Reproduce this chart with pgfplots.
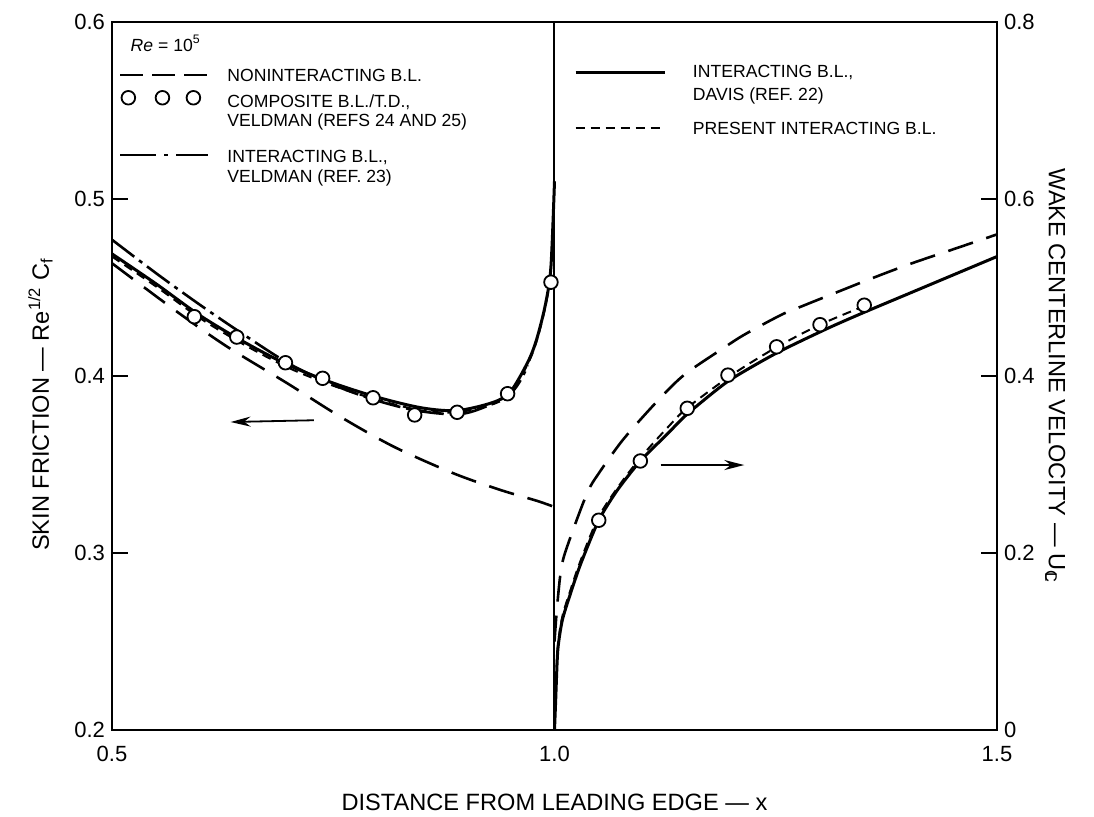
\documentclass[border=0pt]{standalone}
\usepackage{pgfplots}
\pgfplotsset{compat=1.18}
\usepackage{fontspec}
\setmainfont{Liberation Sans}
\usetikzlibrary{arrows.meta}

\pgfplotstableread{
x y
0.5 0.4637
0.5735 0.4363
0.630 0.4166
0.698 0.3959
0.758 0.3770
0.8186 0.3600
0.886 0.3450
0.939 0.3356
0.980 0.3295
1.0 0.3260
}\nonintL

\pgfplotstableread{
x y
0.5 0.469
0.55 0.452
0.6 0.434
0.65 0.419
0.7 0.406
0.75 0.396
0.8 0.388
0.85 0.382
0.89 0.3805
0.93 0.385
0.95 0.391
0.97 0.408
0.98 0.421
0.99 0.441
0.996 0.462
1.0 0.510
}\davisL

\pgfplotstableread{
x y
0.5 0.4675
0.55 0.4505
0.6 0.4325
0.65 0.4175
0.7 0.4045
0.75 0.3945
0.8 0.3865
0.85 0.3805
0.89 0.3795
0.93 0.384
0.95 0.390
0.97 0.407
0.98 0.420
0.99 0.440
0.996 0.461
1.0 0.510
}\presentL

\pgfplotstableread{
x y
0.5 0.477
0.55 0.458
0.6 0.440
0.65 0.423
0.7 0.407
0.75 0.395
0.8 0.386
0.85 0.380
0.9 0.379
0.95 0.390
0.97 0.406
}\veldmanL

\pgfplotstableread{
x y
0.593 0.4335
0.641 0.4220
0.696 0.4075
0.738 0.3987
0.795 0.3877
0.842 0.3780
0.890 0.3795
0.947 0.3900
0.996 0.4530
}\circL

\pgfplotstableread{
x y
1.0 0.0
1.0012 0.030
1.0037 0.090
1.0088 0.124
1.018 0.154
1.0297 0.188
1.05 0.237
1.071 0.271
1.097 0.304
1.128 0.335
1.15 0.357
1.196 0.394
1.251 0.426
1.309 0.454
1.35 0.472
1.4 0.493
1.45 0.514
1.5 0.535
}\davisR

\pgfplotstableread{
x y
1.0 0.10
1.003 0.140
1.008 0.185
1.017 0.215
1.037 0.268
1.05 0.290
1.075 0.325
1.1 0.354
1.128 0.384
1.15 0.404
1.19 0.431
1.215 0.447
1.256 0.469
1.28 0.479
1.35 0.507
1.4 0.526
1.45 0.543
1.5 0.560
}\nonintR

\pgfplotstableread{
x y
1.0 0.02
1.0012 0.045
1.0037 0.094
1.0088 0.128
1.018 0.158
1.0297 0.192
1.05 0.241
1.075 0.279
1.1 0.311
1.128 0.342
1.15 0.364
1.2 0.401
1.25 0.432
1.3 0.458
1.35 0.479
}\presentR

\pgfplotstableread{
x y
1.050 0.237
1.097 0.304
1.150 0.3635
1.196 0.401
1.251 0.433
1.300 0.458
1.350 0.480
}\circR

\begin{document}
\begin{tikzpicture}
\path[use as bounding box] (-56pt,-43pt) rectangle (491pt,365pt);
\tikzset{
  nonint/.style={black, line width=1.3pt, dash pattern=on 13pt off 7pt},
  davis/.style={black, line width=1.5pt},
  present/.style={black, line width=1.0pt, dash pattern=on 4.5pt off 3pt},
  veld/.style={black, line width=1.3pt, dash pattern=on 14pt off 3pt on 2pt off 3pt},
  circ/.style={only marks, mark=*, mark size=3.4pt, mark options={fill=white, draw=black, line width=0.9pt}},
  legtext/.style={font=\fontsize{8.8}{10}\selectfont, anchor=west, inner sep=0pt},
}
\begin{axis}[
  at={(0,0)}, anchor=south west,
  width=442.5pt, height=354pt, scale only axis,
  xmin=0.5, xmax=1.5, ymin=0.2, ymax=0.6,
  axis line style={line width=1.4pt},
  xtick={0.5,1,1.5}, xticklabels={0.5,1.0,1.5},
  xtick style={draw=none},
  ytick={0.2,0.3,0.4,0.5,0.6}, yticklabels={0.2,0.3,0.4,0.5,0.6},
  ytick pos=left,
  tick align=inside, major tick length=8pt,
  ytick style={line width=1.2pt, black},
  tick label style={font=\fontsize{11}{12}\selectfont},
  xticklabel style={yshift=-4.5pt},
  xlabel={DISTANCE FROM LEADING EDGE — x},
  xlabel style={font=\fontsize{11.8}{13}\selectfont, at={(axis description cs:0.5,-0.102)}, anchor=center},
  ylabel={SKIN FRICTION — Re\textsuperscript{1/2} C\textsubscript{f}},
  ylabel style={font=\fontsize{11.8}{13}\selectfont, at={(axis description cs:-0.081,0.46)}, anchor=center},
]
\addplot[black, line width=1pt] coordinates {(1,0.2) (1,0.6)};
\addplot[nonint, smooth, tension=0.5] table {\nonintL};
\addplot[veld, smooth, tension=0.5] table {\veldmanL};
\addplot[present, smooth, tension=0.5] table {\presentL};
\addplot[davis, smooth, tension=0.5] table {\davisL};
\addplot[circ] table {\circL};

% arrows
\draw[-{Stealth[length=10pt,width=5pt]}, line width=0.9pt] (axis cs:0.728,0.375) -- (axis cs:0.634,0.374);
\draw[-{Stealth[length=10pt,width=5pt]}, line width=0.9pt] (axis cs:1.120,0.3497) -- (axis cs:1.2145,0.3497);

% legend left
\node[legtext] at (rel axis cs:0.0207,0.970) {\itshape Re \upshape= 10\textsuperscript{5}};
\draw[nonint, dash pattern=on 11.5pt off 4.5pt] (rel axis cs:0.0094,0.925) -- (rel axis cs:0.108,0.925);
\node[legtext] at (rel axis cs:0.130,0.925) {NONINTERACTING B.L.};
\draw[fill=white, line width=0.9pt] (rel axis cs:0.0185,0.893) circle[radius=3.4pt];
\draw[fill=white, line width=0.9pt] (rel axis cs:0.057,0.893) circle[radius=3.4pt];
\draw[fill=white, line width=0.9pt] (rel axis cs:0.092,0.893) circle[radius=3.4pt];
\node[legtext] at (rel axis cs:0.130,0.887) {COMPOSITE B.L./T.D.,};
\node[legtext] at (rel axis cs:0.130,0.859) {VELDMAN (REFS 24 AND 25)};
\draw[veld, dash pattern=on 18pt off 4pt on 2pt off 4pt] (rel axis cs:0.0094,0.812) -- (rel axis cs:0.108,0.812);
\node[legtext] at (rel axis cs:0.130,0.809) {INTERACTING B.L.,};
\node[legtext] at (rel axis cs:0.130,0.780) {VELDMAN (REF. 23)};

% legend right
\draw[davis] (rel axis cs:0.524,0.928) -- (rel axis cs:0.625,0.928);
\node[legtext] at (rel axis cs:0.656,0.929) {INTERACTING B.L.,};
\node[legtext] at (rel axis cs:0.656,0.895) {DAVIS (REF. 22)};
\draw[present] (rel axis cs:0.524,0.850) -- (rel axis cs:0.625,0.850);
\node[legtext] at (rel axis cs:0.656,0.850) {PRESENT INTERACTING B.L.};
\end{axis}

\begin{axis}[
  at={(0,0)}, anchor=south west,
  width=442.5pt, height=354pt, scale only axis,
  xmin=0.5, xmax=1.5, ymin=0, ymax=0.8,
  axis x line=none, axis y line*=right,
  axis line style={line width=1.4pt, -},
  ytick={0,0.2,0.4,0.6,0.8}, yticklabels={0,0.2,0.4,0.6,0.8},
  tick align=inside, major tick length=8pt,
  ytick style={line width=1.2pt, black},
  tick label style={font=\fontsize{11}{12}\selectfont},
  ylabel={WAKE CENTERLINE VELOCITY — U\textsubscript{\ooalign{C\cr\kern0.14em L}}},
  ylabel style={font=\fontsize{11.8}{13}\selectfont, at={(axis description cs:1.066,0.5)}, anchor=center, rotate=180},
]
\addplot[nonint, smooth, tension=0.5] table {\nonintR};
\addplot[present, smooth, tension=0.5] table {\presentR};
\addplot[davis, smooth, tension=0.4] table {\davisR};
\addplot[circ] table {\circR};
\end{axis}
\end{tikzpicture}
\end{document}
